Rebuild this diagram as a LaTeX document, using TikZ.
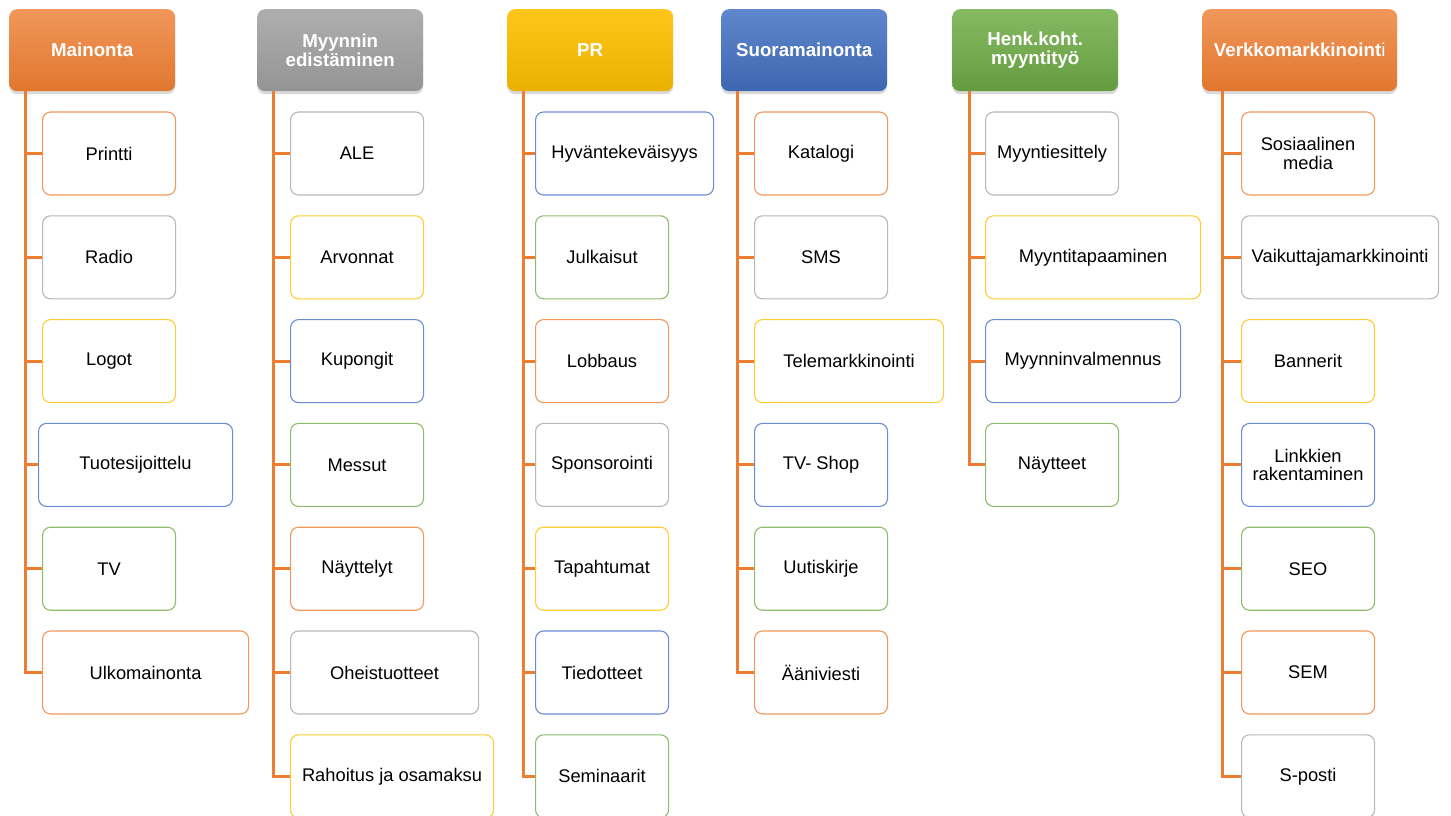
\documentclass[tikz,border=0pt]{standalone}
\usepackage{fontspec}
\setmainfont{Liberation Sans}
\usetikzlibrary{positioning, shadows}
\definecolor{OffOrange}{HTML}{ED7D31}
\definecolor{OffGray}{HTML}{A5A5A5}
\definecolor{OffGold}{HTML}{FFC000}
\definecolor{OffBlue}{HTML}{4472C4}
\definecolor{OffGreen}{HTML}{70AD47}

\begin{document}
\begin{tikzpicture}[x=1pt,y=-1pt,
        hdr/.style={rounded corners=8pt,minimum height=82pt,text=white,
                    font=\fontsize{18.7}{19.5}\selectfont\bfseries,align=center,
                    anchor=north west,inner sep=2pt,
                    drop shadow={opacity=0.3,shadow xshift=0pt,shadow yshift=-3pt}},
        leaf/.style={draw=#1!80,fill=white,rounded corners=8pt,line width=1.1pt,
                     minimum height=83pt,anchor=west,align=center,inner sep=2pt,
                     font=\fontsize{18.3}{18.5}\selectfont},
        conn/.style={OffOrange,line width=3pt}
      ]
        \useasboundingbox (0,0) rectangle (1451,816);
        % headers
        \node[hdr,top color=OffOrange!80,bottom color=OffOrange!95!black,minimum width=166pt] (mh) at (9,9) {Mainonta};
        \node[hdr,top color=OffGray!90,bottom color=OffGray!90!black,minimum width=166pt] (eh) at (257,9) {Myynnin\\edistäminen};
        \node[hdr,top color=OffGold!90,bottom color=OffGold!92!black,minimum width=166pt] (ph) at (507,9) {PR};
        \node[hdr,top color=OffBlue!85,bottom color=OffBlue!90!black,minimum width=166pt] (sh) at (721,9) {Suoramainonta};
        \node[hdr,top color=OffGreen!85,bottom color=OffGreen!90!black,minimum width=166pt] (hh) at (952,9) {Henk.koht.\\myyntityö};
        \node[hdr,top color=OffOrange!80,bottom color=OffOrange!95!black,minimum width=195pt] (vh) at (1202,9) {Verkkomarkkinoint{\mdseries i}};
        % Mainonta
        \node[leaf=OffOrange,minimum width=133pt] (m1) at (42,153.5) {Printti};
        \node[leaf=OffGray,minimum width=133pt] (m2) at (42,257.3) {Radio};
        \node[leaf=OffGold,minimum width=133pt] (m3) at (42,361.1) {Logot};
        \node[leaf=OffBlue,minimum width=194pt] (m4) at (38,464.9) {Tuotesijoittelu};
        \node[leaf=OffGreen,minimum width=133pt] (m5) at (42,568.7) {TV};
        \node[leaf=OffOrange,minimum width=206pt] (m6) at (42,672.5) {Ulkomainonta};
        % Myynnin edistaminen
        \node[leaf=OffGray,minimum width=133pt] (e1) at (290,153.5) {ALE};
        \node[leaf=OffGold,minimum width=133pt] (e2) at (290,257.3) {Arvonnat};
        \node[leaf=OffBlue,minimum width=133pt] (e3) at (290,361.1) {Kupongit};
        \node[leaf=OffGreen,minimum width=133pt] (e4) at (290,464.9) {Messut};
        \node[leaf=OffOrange,minimum width=133pt] (e5) at (290,568.7) {Näyttelyt};
        \node[leaf=OffGray,minimum width=188pt] (e6) at (290,672.5) {Oheistuotteet};
        \node[leaf=OffGold,minimum width=203pt] (e7) at (290,776.3) {Rahoitus ja osamaksu};
        % PR
        \node[leaf=OffBlue,minimum width=178pt] (p1) at (535,153.5) {Hyväntekeväisyys};
        \node[leaf=OffGreen,minimum width=133pt] (p2) at (535,257.3) {Julkaisut};
        \node[leaf=OffOrange,minimum width=133pt] (p3) at (535,361.1) {Lobbaus};
        \node[leaf=OffGray,minimum width=133pt] (p4) at (535,464.9) {Sponsorointi};
        \node[leaf=OffGold,minimum width=133pt] (p5) at (535,568.7) {Tapahtumat};
        \node[leaf=OffBlue,minimum width=133pt] (p6) at (535,672.5) {Tiedotteet};
        \node[leaf=OffGreen,minimum width=133pt] (p7) at (535,776.3) {Seminaarit};
        % Suoramainonta
        \node[leaf=OffOrange,minimum width=133pt] (s1) at (754,153.5) {Katalogi};
        \node[leaf=OffGray,minimum width=133pt] (s2) at (754,257.3) {SMS};
        \node[leaf=OffGold,minimum width=189pt] (s3) at (754,361.1) {Telemarkkinointi};
        \node[leaf=OffBlue,minimum width=133pt] (s4) at (754,464.9) {TV- Shop};
        \node[leaf=OffGreen,minimum width=133pt] (s5) at (754,568.7) {Uutiskirje};
        \node[leaf=OffOrange,minimum width=133pt] (s6) at (754,672.5) {Ääniviesti};
        % Henk.koht. myyntityo
        \node[leaf=OffGray,minimum width=133pt] (h1) at (985,153.5) {Myyntiesittely};
        \node[leaf=OffGold,minimum width=215pt] (h2) at (985,257.3) {Myyntitapaaminen};
        \node[leaf=OffBlue,minimum width=195pt] (h3) at (985,361.1) {Myynninvalmennus};
        \node[leaf=OffGreen,minimum width=133pt] (h4) at (985,464.9) {Näytteet};
        % Verkkomarkkinointi
        \node[leaf=OffOrange,minimum width=133pt] (v1) at (1241,153.5) {Sosiaalinen\\media};
        \node[leaf=OffGray,minimum width=197pt] (v2) at (1241,257.3) {Vaikuttajamarkkinointi};
        \node[leaf=OffGold,minimum width=133pt] (v3) at (1241,361.1) {Bannerit};
        \node[leaf=OffBlue,minimum width=133pt] (v4) at (1241,464.9) {Linkkien\\rakentaminen};
        \node[leaf=OffGreen,minimum width=133pt] (v5) at (1241,568.7) {SEO};
        \node[leaf=OffOrange,minimum width=133pt] (v6) at (1241,672.5) {SEM};
        \node[leaf=OffGray,minimum width=133pt] (v7) at (1241,776.3) {S-posti};
        % connectors
        \coordinate (mt) at (25,91);
        \coordinate (et) at (273,91);
        \coordinate (pt) at (523,91);
        \coordinate (st) at (737,91);
        \coordinate (ht) at (969,91);
        \coordinate (vt) at (1222,91);
        \draw[conn] (mt)|-(m1.west) (mt)|-(m2.west) (mt)|-(m3.west)
          (mt)|-(m4.west) (mt)|-(m5.west) (mt)|-(m6.west);
        \draw[conn] (et)|-(e1.west) (et)|-(e2.west) (et)|-(e3.west) (et)|-(e4.west)
          (et)|-(e5.west) (et)|-(e6.west) (et)|-(e7.west);
        \draw[conn] (pt)|-(p1.west) (pt)|-(p2.west) (pt)|-(p3.west) (pt)|-(p4.west)
          (pt)|-(p5.west) (pt)|-(p6.west) (pt)|-(p7.west);
        \draw[conn] (st)|-(s1.west) (st)|-(s2.west) (st)|-(s3.west)
          (st)|-(s4.west) (st)|-(s5.west) (st)|-(s6.west);
        \draw[conn] (ht)|-(h1.west) (ht)|-(h2.west) (ht)|-(h3.west) (ht)|-(h4.west);
        \draw[conn] (vt)|-(v1.west) (vt)|-(v2.west) (vt)|-(v3.west) (vt)|-(v4.west)
          (vt)|-(v5.west) (vt)|-(v6.west) (vt)|-(v7.west);
      \end{tikzpicture}
\end{document}
